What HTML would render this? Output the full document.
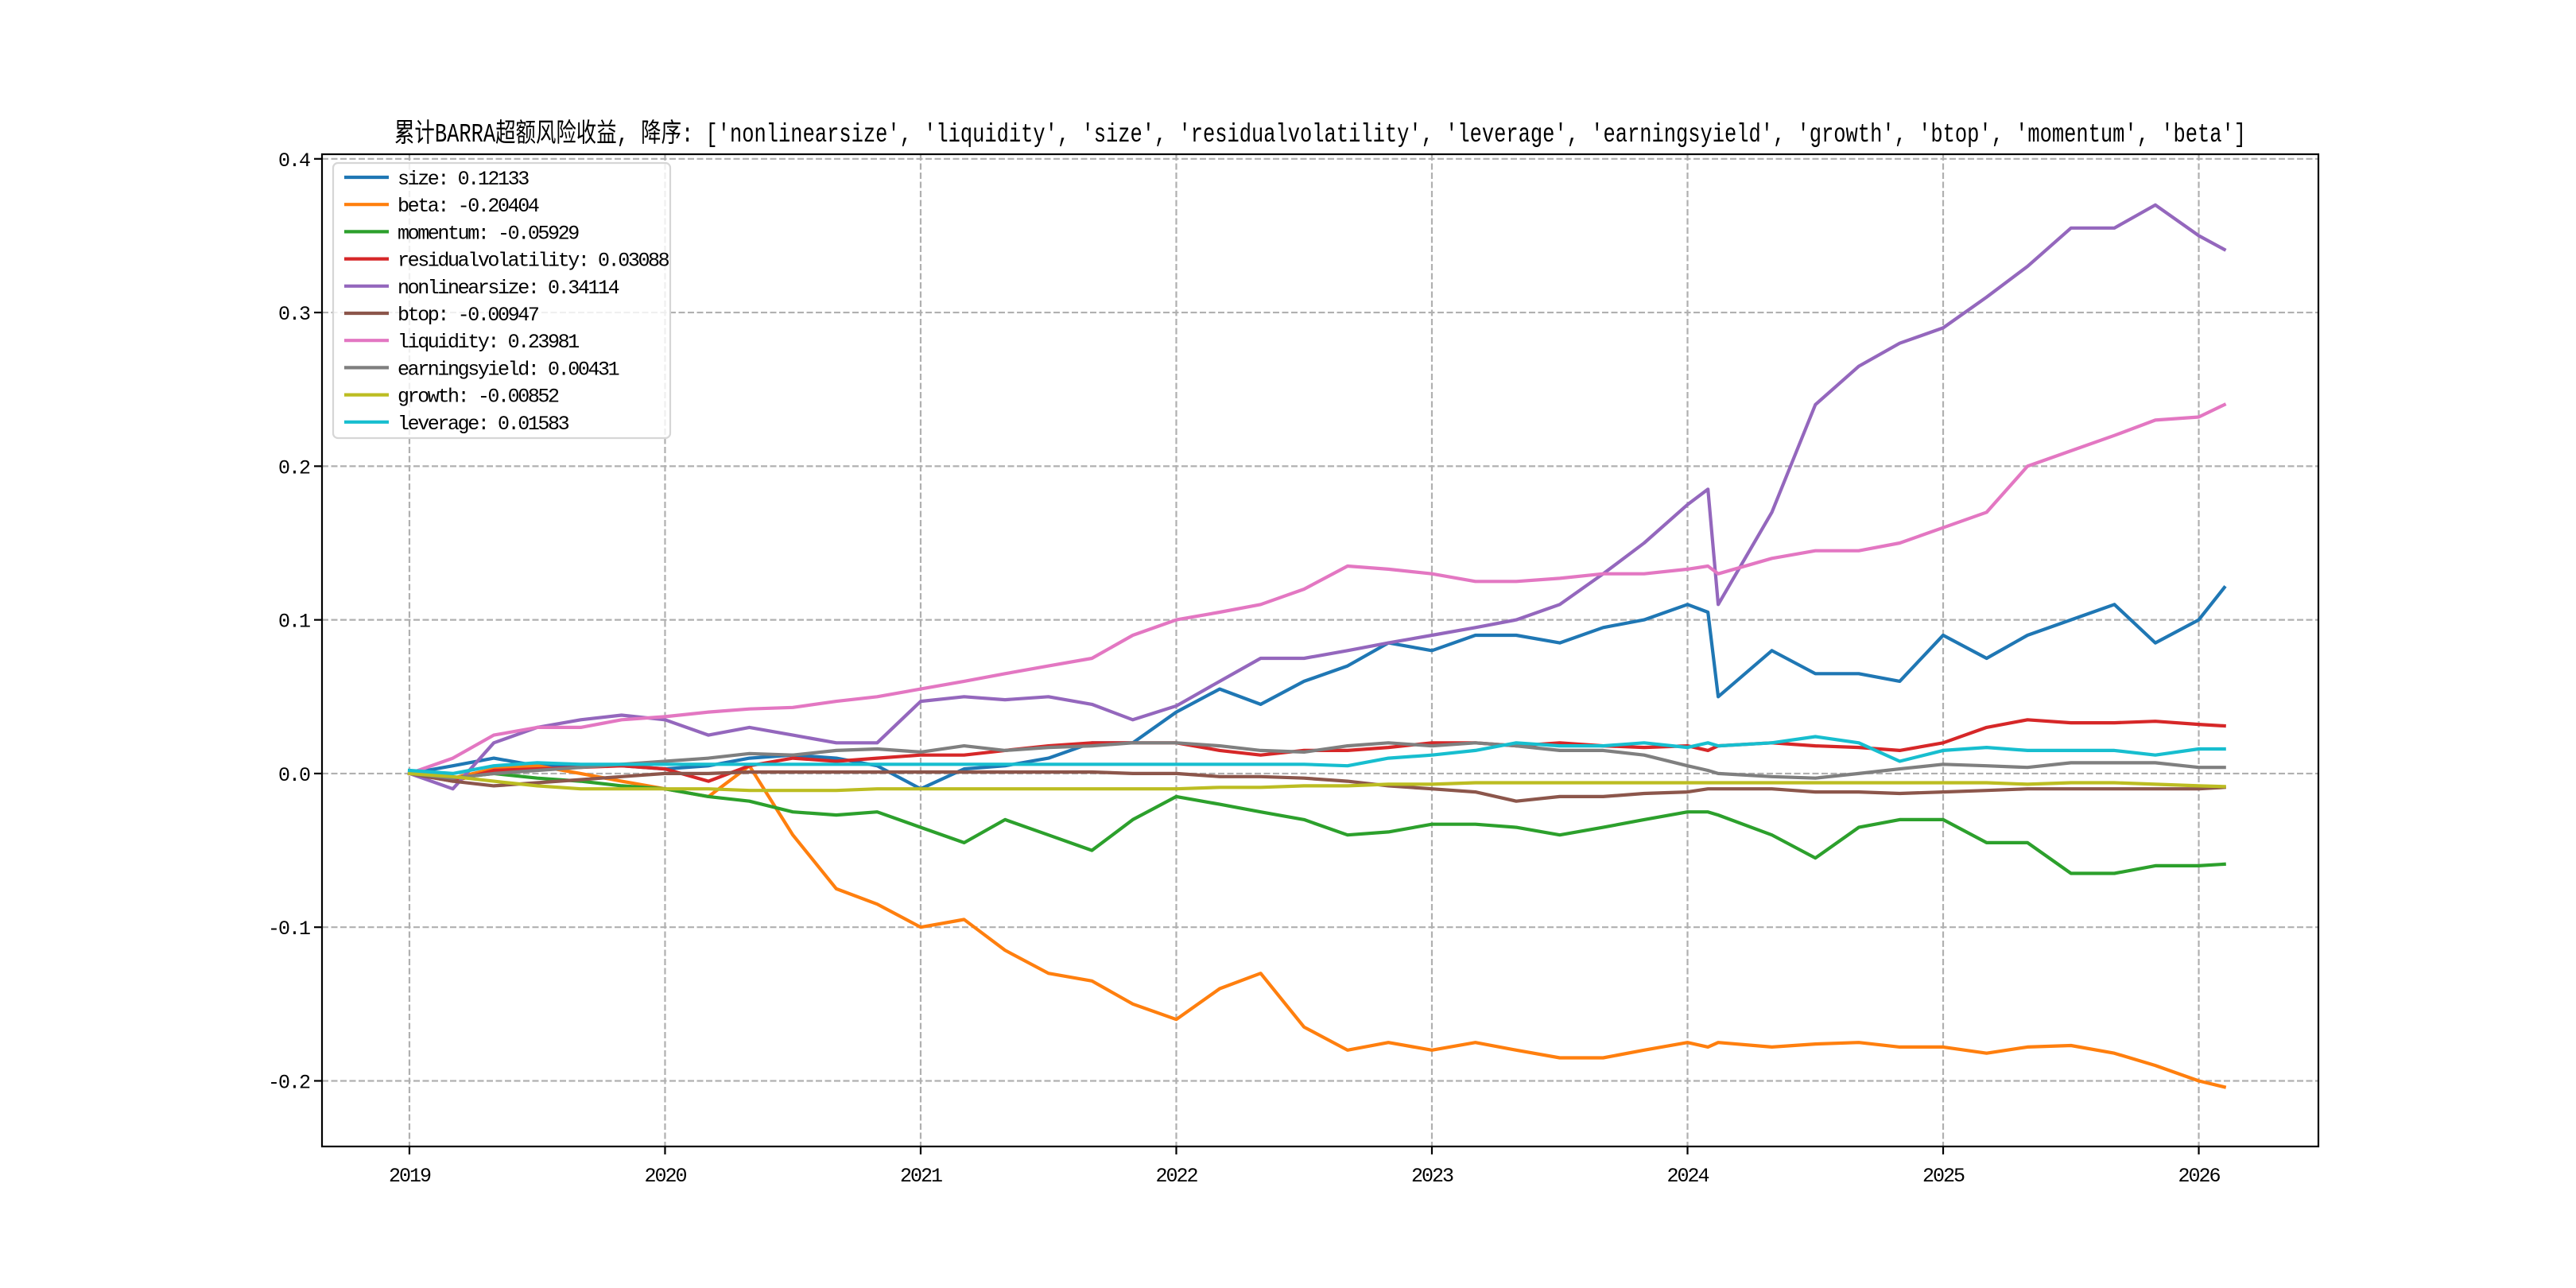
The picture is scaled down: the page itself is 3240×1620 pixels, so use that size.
<!DOCTYPE html>
<html><head><meta charset="utf-8"><style>
html,body{margin:0;padding:0;background:#fff;}
svg{display:block;}
text{font-family:"Liberation Mono","WenQuanYi Zen Hei",monospace;fill:#000;}
</style></head><body>
<svg id="chart" width="3240" height="1620" viewBox="0 0 3240 1620" xmlns="http://www.w3.org/2000/svg"></svg>
<script>
const dates=[2019.0,2019.17,2019.33,2019.5,2019.67,2019.83,2020.0,2020.17,2020.33,2020.5,2020.67,2020.83,2021.0,2021.17,2021.33,2021.5,2021.67,2021.83,2022.0,2022.17,2022.33,2022.5,2022.67,2022.83,2023.0,2023.17,2023.33,2023.5,2023.67,2023.83,2024.0,2024.08,2024.12,2024.33,2024.5,2024.67,2024.83,2025.0,2025.17,2025.33,2025.5,2025.67,2025.83,2026.0,2026.1];
const seriesNames=['size','beta','momentum','residualvolatility','nonlinearsize','btop','liquidity','earningsyield','growth','leverage'];
const finalValues=['0.12133','-0.20404','-0.05929','0.03088','0.34114','-0.00947','0.23981','0.00431','-0.00852','0.01583'];
const size=[0,0.005,0.01,0.005,0.005,0.005,0.003,0.005,0.01,0.012,0.01,0.005,-0.01,0.003,0.005,0.01,0.02,0.02,0.04,0.055,0.045,0.06,0.07,0.085,0.08,0.09,0.09,0.085,0.095,0.1,0.11,0.105,0.05,0.08,0.065,0.065,0.06,0.09,0.075,0.09,0.1,0.11,0.085,0.1,0.121];
const beta=[0,-0.003,0.003,0.005,0,-0.005,-0.01,-0.015,0.005,-0.04,-0.075,-0.085,-0.1,-0.095,-0.115,-0.13,-0.135,-0.15,-0.16,-0.14,-0.13,-0.165,-0.18,-0.175,-0.18,-0.175,-0.18,-0.185,-0.185,-0.18,-0.175,-0.178,-0.175,-0.178,-0.176,-0.175,-0.178,-0.178,-0.182,-0.178,-0.177,-0.182,-0.19,-0.2,-0.204];
const momentum=[0,-0.003,0,-0.003,-0.005,-0.008,-0.01,-0.015,-0.018,-0.025,-0.027,-0.025,-0.035,-0.045,-0.03,-0.04,-0.05,-0.03,-0.015,-0.02,-0.025,-0.03,-0.04,-0.038,-0.033,-0.033,-0.035,-0.04,-0.035,-0.03,-0.025,-0.025,-0.027,-0.04,-0.055,-0.035,-0.03,-0.03,-0.045,-0.045,-0.065,-0.065,-0.06,-0.06,-0.059];
const residualvolatility=[0,-0.005,0.002,0.003,0.004,0.005,0.003,-0.005,0.005,0.01,0.008,0.01,0.012,0.012,0.015,0.018,0.02,0.02,0.02,0.015,0.012,0.015,0.015,0.017,0.02,0.02,0.018,0.02,0.018,0.017,0.018,0.015,0.018,0.02,0.018,0.017,0.015,0.02,0.03,0.035,0.033,0.033,0.034,0.032,0.031];
const nonlinearsize=[0,-0.01,0.02,0.03,0.035,0.038,0.035,0.025,0.03,0.025,0.02,0.02,0.047,0.05,0.048,0.05,0.045,0.035,0.044,0.06,0.075,0.075,0.08,0.085,0.09,0.095,0.1,0.11,0.13,0.15,0.175,0.185,0.11,0.17,0.24,0.265,0.28,0.29,0.31,0.33,0.355,0.355,0.37,0.35,0.341];
const btop=[0,-0.005,-0.008,-0.006,-0.004,-0.002,0,0,0.001,0.001,0.001,0.001,0.001,0.001,0.001,0.001,0.001,0.0,0,-0.002,-0.002,-0.003,-0.005,-0.008,-0.01,-0.012,-0.018,-0.015,-0.015,-0.013,-0.012,-0.01,-0.01,-0.01,-0.012,-0.012,-0.013,-0.012,-0.011,-0.01,-0.01,-0.01,-0.01,-0.01,-0.009];
const liquidity=[0,0.01,0.025,0.03,0.03,0.035,0.037,0.04,0.042,0.043,0.047,0.05,0.055,0.06,0.065,0.07,0.075,0.09,0.1,0.105,0.11,0.12,0.135,0.133,0.13,0.125,0.125,0.127,0.13,0.13,0.133,0.135,0.13,0.14,0.145,0.145,0.15,0.16,0.17,0.2,0.21,0.22,0.23,0.232,0.24];
const earningsyield=[0,-0.003,0,0.002,0.004,0.006,0.008,0.01,0.013,0.012,0.015,0.016,0.014,0.018,0.015,0.017,0.018,0.02,0.02,0.018,0.015,0.014,0.018,0.02,0.018,0.02,0.018,0.015,0.015,0.012,0.005,0.002,0,-0.002,-0.003,0,0.003,0.006,0.005,0.004,0.007,0.007,0.007,0.004,0.004];
const growth=[0,-0.002,-0.005,-0.008,-0.01,-0.01,-0.01,-0.01,-0.011,-0.011,-0.011,-0.01,-0.01,-0.01,-0.01,-0.01,-0.01,-0.01,-0.01,-0.009,-0.009,-0.008,-0.008,-0.007,-0.007,-0.006,-0.006,-0.006,-0.006,-0.006,-0.006,-0.006,-0.006,-0.006,-0.006,-0.006,-0.006,-0.006,-0.006,-0.007,-0.006,-0.006,-0.007,-0.008,-0.0085];
const leverage=[0.002,0,0.005,0.007,0.006,0.006,0.006,0.006,0.006,0.006,0.006,0.006,0.006,0.006,0.006,0.006,0.006,0.006,0.006,0.006,0.006,0.006,0.005,0.01,0.012,0.015,0.02,0.018,0.018,0.02,0.017,0.02,0.018,0.02,0.024,0.02,0.008,0.015,0.017,0.015,0.015,0.015,0.012,0.016,0.016];
const yTicks=[-0.2,-0.1,0.0,0.1,0.2,0.3,0.4];
const yTickLabels=['-0.2','-0.1','0.0','0.1','0.2','0.3','0.4'];
const xTicks=[2019,2020,2021,2022,2023,2024,2025,2026];
const xTickLabels=['2019','2020','2021','2022','2023','2024','2025','2026'];

const colors=['#1f77b4','#ff7f0e','#2ca02c','#d62728','#9467bd','#8c564b','#e377c2','#7f7f7f','#bcbd22','#17becf'];
const seriesData=[size,beta,momentum,residualvolatility,nonlinearsize,btop,liquidity,earningsyield,growth,leverage];
const L=405,R=2916,T=194,B=1442;
const yMin=-0.2427,yMax=0.4030;
const xMin=2018.658,xMax=2026.468;
function xs(v){return L+(v-xMin)/(xMax-xMin)*(R-L);}
function ys(v){return B-(v-yMin)/(yMax-yMin)*(B-T);}
const NS='http://www.w3.org/2000/svg';
const svg=document.getElementById('chart');
function mk(tag,attrs,parent){const e=document.createElementNS(NS,tag);for(const k in attrs)e.setAttribute(k,attrs[k]);(parent||svg).appendChild(e);return e;}

xTicks.forEach((t,i)=>{
  const g=mk('line',{x1:xs(t),x2:xs(t),y1:T,y2:B,stroke:'#b0b0b0','stroke-width':2.2,'stroke-dasharray':'8,3.5'});
  
  
  const tk=mk('line',{x1:xs(t),x2:xs(t),y1:B,y2:B+10,stroke:'#000','stroke-width':2.2});
  
  
  const tx=mk('text',{x:xs(t),y:B+44,'text-anchor':'middle','font-size':25,'letter-spacing':-2});
  tx.textContent=xTickLabels[i];
  
  
});
yTicks.forEach((t,i)=>{
  const g=mk('line',{x1:L,x2:R,y1:ys(t),y2:ys(t),stroke:'#b0b0b0','stroke-width':2.2,'stroke-dasharray':'8,3.5'});
  
  
  const tk=mk('line',{x1:L-10,x2:L,y1:ys(t),y2:ys(t),stroke:'#000','stroke-width':2.2});
  
  
  const tx=mk('text',{x:L-16,y:ys(t)+9,'text-anchor':'end','font-size':25,'letter-spacing':-2});
  tx.textContent=yTickLabels[i];
  
  
});
seriesData.forEach((arr,si)=>{
  const d=arr.map((v,i)=>(i?'L':'M')+xs(dates[i]).toFixed(1)+','+ys(v).toFixed(1)).join(' ');
  const p=mk('path',{d:d,fill:'none',stroke:colors[si],'stroke-width':4.2,'stroke-linejoin':'round','stroke-linecap':'square'});
  
  
});
const frame=mk('rect',{x:L,y:T,width:R-L,height:B-T,fill:'none',stroke:'#000','stroke-width':2.2});


const title=mk('text',{x:(L+R)/2,y:178,'text-anchor':'middle','font-size':33,textLength:2329,lengthAdjust:'spacingAndGlyphs'});
title.textContent="累计BARRA超额风险收益,  降序: ['nonlinearsize', 'liquidity', 'size', 'residualvolatility', 'leverage', 'earningsyield', 'growth', 'btop', 'momentum', 'beta']";


const lg=mk('g',{});


const lbox=mk('rect',{x:419,y:205,width:424,height:346,rx:6,fill:'#fff','fill-opacity':0.8,stroke:'#d6d6d6','stroke-width':2.2},lg);


seriesNames.forEach((n,i)=>{
  const y=223+i*34.2;
  const e=mk('g',{},lg);
  
  
  mk('line',{x1:433,x2:489,y1:y,y2:y,stroke:colors[i],'stroke-width':4.2},e);
  const t=mk('text',{x:500,y:y+9,'font-size':25,'letter-spacing':-2.4},e);
  t.textContent=n+': '+finalValues[i];
});
</script>
</body></html>
